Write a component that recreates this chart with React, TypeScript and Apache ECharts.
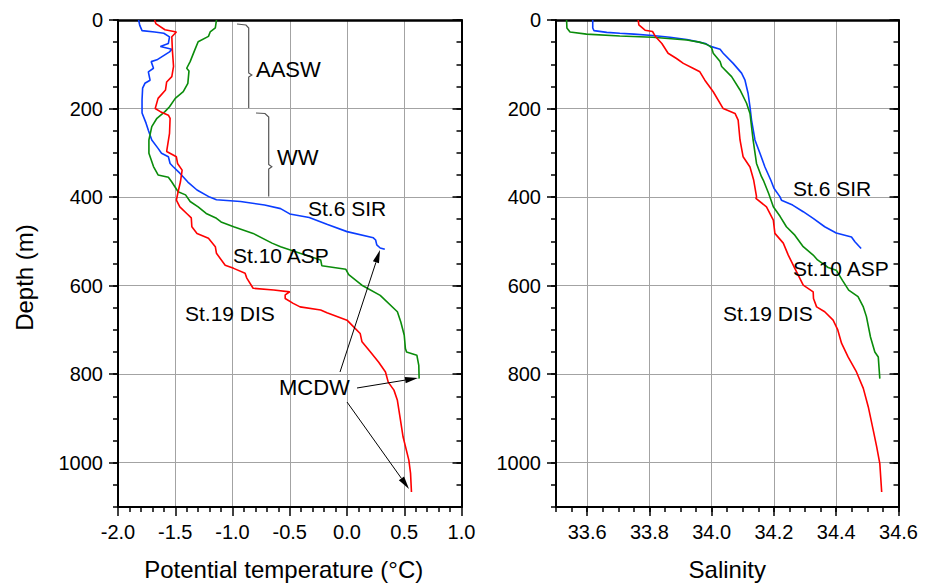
import React, { useEffect, useRef } from 'react';
import * as echarts from 'echarts';

// ---------- data ----------
const depthMax = 1100;
const tempTicks = [-2, -1.5, -1, -0.5, 0, 0.5, 1];
const salTicks = [33.6, 33.8, 34.0, 34.2, 34.4, 34.6];

// St.6 SIR – potential temperature
const sirTDepth = [0, 12, 24, 27, 30, 38, 53, 60, 66, 72, 90, 94, 109, 117, 136, 143, 154, 180, 210, 233, 249, 271, 290, 301, 309, 324, 331, 346, 366, 384, 400, 406, 410, 418, 426, 438, 446, 462, 478, 492, 497, 508, 515, 518];
const sirT = [-1.82, -1.81, -1.79, -1.68, -1.6, -1.55, -1.56, -1.63, -1.53, -1.55, -1.66, -1.71, -1.69, -1.735, -1.72, -1.765, -1.785, -1.79, -1.79, -1.755, -1.735, -1.705, -1.65, -1.62, -1.56, -1.545, -1.52, -1.46, -1.39, -1.31, -1.2, -1.14, -0.93, -0.72, -0.58, -0.5, -0.33, -0.17, 0.0, 0.23, 0.25, 0.26, 0.29, 0.33];

// St.10 ASP – potential temperature
const aspTDepth = [0, 18, 27, 37, 49, 68, 94, 109, 115, 143, 162, 177, 196, 207, 222, 241, 271, 301, 331, 350, 355, 366, 388, 395, 410, 422, 437, 448, 456, 467, 482, 504, 512, 527, 542, 555, 563, 575, 599, 622, 659, 682, 712, 742, 750, 757, 780, 810];
const aspT = [-1.14, -1.15, -1.195, -1.21, -1.3, -1.33, -1.37, -1.4, -1.38, -1.39, -1.43, -1.5, -1.55, -1.59, -1.66, -1.705, -1.73, -1.73, -1.69, -1.65, -1.56, -1.53, -1.475, -1.41, -1.37, -1.3, -1.23, -1.14, -1.1, -0.99, -0.82, -0.655, -0.58, -0.41, -0.23, -0.22, -0.01, 0.015, 0.13, 0.29, 0.44, 0.47, 0.5, 0.51, 0.52, 0.61, 0.627, 0.63];

// St.19 DIS – potential temperature
const disTDepth = [0, 8, 22, 27, 38, 68, 105, 128, 140, 158, 177, 200, 207, 215, 222, 256, 297, 309, 324, 339, 366, 388, 407, 422, 437, 447, 467, 482, 493, 512, 527, 554, 561, 572, 583, 606, 610, 614, 621, 629, 640, 648, 655, 661, 678, 697, 708, 727, 750, 773, 795, 818, 836, 859, 904, 942, 994, 1024, 1066];
const disT = [-1.68, -1.67, -1.59, -1.49, -1.53, -1.525, -1.515, -1.53, -1.575, -1.585, -1.65, -1.675, -1.63, -1.56, -1.545, -1.55, -1.575, -1.49, -1.48, -1.44, -1.455, -1.475, -1.49, -1.46, -1.4, -1.36, -1.355, -1.31, -1.21, -1.15, -1.14, -1.064, -0.99, -0.89, -0.875, -0.82, -0.64, -0.5, -0.54, -0.54, -0.47, -0.41, -0.23, -0.175, 0.0, 0.073, 0.115, 0.131, 0.205, 0.277, 0.336, 0.36, 0.41, 0.44, 0.467, 0.49, 0.54, 0.555, 0.563];

// St.6 SIR – salinity
const sirSDepth = [0, 18, 24, 28, 30, 32, 35, 39, 44, 50, 53, 59, 66, 75, 98, 120, 136, 166, 196, 226, 271, 301, 332, 362, 380, 399, 407, 418, 433, 448, 467, 481, 490, 501, 516];
const sirS = [33.618, 33.618, 33.622, 33.663, 33.705, 33.75, 33.81, 33.866, 33.92, 33.96, 33.98, 33.994, 34.027, 34.037, 34.069, 34.096, 34.107, 34.117, 34.123, 34.128, 34.139, 34.155, 34.171, 34.19, 34.2, 34.219, 34.224, 34.26, 34.294, 34.326, 34.363, 34.4, 34.449, 34.46, 34.48];

// St.10 ASP – salinity
const aspSDepth = [0, 18, 27, 32, 36, 39, 45, 50, 54, 59, 63, 75, 94, 105, 128, 158, 188, 211, 271, 324, 354, 362, 392, 422, 444, 467, 486, 512, 531, 542, 559, 565, 588, 610, 625, 648, 670, 716, 750, 761, 810];
const aspS = [33.534, 33.535, 33.545, 33.598, 33.705, 33.81, 33.92, 33.96, 33.98, 33.994, 34.0, 34.005, 34.027, 34.032, 34.064, 34.091, 34.112, 34.123, 34.133, 34.144, 34.16, 34.166, 34.183, 34.198, 34.22, 34.24, 34.267, 34.294, 34.326, 34.34, 34.374, 34.4, 34.42, 34.44, 34.47, 34.487, 34.497, 34.51, 34.524, 34.535, 34.54];

// St.19 DIS – salinity
const disSDepth = [0, 11, 23, 26, 38, 53, 75, 87, 98, 109, 117, 136, 162, 200, 211, 226, 271, 309, 332, 362, 399, 403, 422, 452, 482, 504, 531, 561, 599, 614, 629, 648, 659, 678, 700, 730, 761, 795, 832, 874, 927, 964, 1002, 1066];
const disS = [33.764, 33.766, 33.786, 33.81, 33.82, 33.84, 33.86, 33.887, 33.909, 33.94, 33.962, 33.978, 34.005, 34.037, 34.075, 34.085, 34.091, 34.101, 34.123, 34.135, 34.144, 34.142, 34.176, 34.198, 34.203, 34.23, 34.246, 34.267, 34.294, 34.326, 34.327, 34.337, 34.363, 34.39, 34.405, 34.417, 34.438, 34.465, 34.487, 34.503, 34.519, 34.53, 34.54, 34.546];

const stationNames = ['St.6 SIR', 'St.10 ASP', 'St.19 DIS'];

// ---------- styling ----------
const FONT = "'Liberation Sans', Arial, Helvetica, sans-serif";
const GRID_COLOR = '#a3a3a3';
const BLUE = '#0a3dff';
const GREEN = '#0a8c0a';
const RED = '#ff0000';

const pairs = (xs: number[], ds: number[]) => xs.map((v, i) => [v, ds[i]]);

function arrow(x1: number, y1: number, x2: number, y2: number) {
  const dx = x2 - x1;
  const dy = y2 - y1;
  const len = Math.hypot(dx, dy);
  const ux = dx / len;
  const uy = dy / len;
  const L = 13;
  const W = 3.2;
  const bx = x2 - ux * L;
  const by = y2 - uy * L;
  return [
    { type: 'line', shape: { x1, y1, x2: bx, y2: by }, style: { stroke: '#000', lineWidth: 1 }, z: 10 },
    {
      type: 'polygon',
      shape: { points: [[x2, y2], [bx - uy * W, by + ux * W], [bx + uy * W, by - ux * W]] },
      style: { fill: '#000' },
      z: 10,
    },
  ];
}

function label(text: string, x: number, y: number, size = 21) {
  return {
    type: 'text',
    x,
    y,
    z: 10,
    style: { text, fill: '#000', fontSize: size, fontFamily: FONT, verticalAlign: 'middle', align: 'left' },
  };
}

function yAxesFor(grid: number, name?: string) {
  const base = { type: 'value', gridIndex: grid, inverse: true, min: 0, max: depthMax };
  const tickStyle = { color: '#000', width: 1.5 };
  return [
    {
      ...base,
      position: 'left',
      interval: 200,
      axisLine: { show: true, onZero: false, lineStyle: { color: '#000', width: 2 } },
      axisTick: { show: true, inside: false, length: 9, lineStyle: tickStyle },
      axisLabel: {
        show: true,
        color: '#000',
        fontSize: 20,
        fontFamily: FONT,
        margin: 15,
        showMaxLabel: false,
        formatter: (v: number) => String(v),
      },
      splitLine: { show: true, lineStyle: { color: GRID_COLOR, width: 1 } },
      name,
      nameLocation: 'middle',
      nameGap: 82,
      nameRotate: 90,
      nameTextStyle: { color: '#000', fontSize: 24, fontFamily: FONT, padding: [0, 28, 0, 0] },
    },
    {
      ...base,
      position: 'left',
      interval: 50,
      axisLine: { show: false, onZero: false },
      axisTick: { show: true, inside: false, length: 5, lineStyle: tickStyle },
      axisLabel: { show: false },
      splitLine: { show: false },
    },
    {
      ...base,
      position: 'right',
      interval: 200,
      axisLine: { show: true, onZero: false, lineStyle: { color: '#000', width: 2 } },
      axisTick: { show: true, inside: true, length: 9, lineStyle: tickStyle },
      axisLabel: { show: false },
      splitLine: { show: false },
    },
    {
      ...base,
      position: 'right',
      interval: 50,
      axisLine: { show: false, onZero: false },
      axisTick: { show: true, inside: true, length: 5, lineStyle: tickStyle },
      axisLabel: { show: false },
      splitLine: { show: false },
    },
  ];
}

export default function App() {
  const ref = useRef<HTMLDivElement>(null);

  useEffect(() => {
    if (!ref.current) return;
    const chart = echarts.init(ref.current, undefined, { renderer: 'svg' });
    const tickStyle = { color: '#000', width: 1.5 };

    const lineSeries = (name: string, data: number[][], color: string, xi: number, yi: number) => ({
      name,
      type: 'line',
      xAxisIndex: xi,
      yAxisIndex: yi,
      data,
      showSymbol: false,
      symbol: 'none',
      smooth: false,
      clip: false,
      lineStyle: { color, width: 1.6 },
      z: 5,
    });

    const option: any = {
      animation: false,
      backgroundColor: '#fff',
      grid: [
        { left: 118, top: 20, width: 343.5, height: 487, outerBoundsMode: 'none', containLabel: false },
        { left: 556, top: 20, width: 342.5, height: 487, outerBoundsMode: 'none', containLabel: false },
      ],
      xAxis: [
        {
          type: 'value',
          gridIndex: 0,
          position: 'bottom',
          min: tempTicks[0],
          max: tempTicks[tempTicks.length - 1],
          interval: 0.5,
          axisLine: { show: true, onZero: false, lineStyle: { color: '#000', width: 2 } },
          axisTick: { show: true, length: 9, lineStyle: tickStyle },
          minorTick: { show: true, splitNumber: 5, length: 5, lineStyle: tickStyle },
          axisLabel: { color: '#000', fontSize: 20, fontFamily: FONT, margin: 15, formatter: (v: number) => v.toFixed(1) },
          splitLine: { show: true, lineStyle: { color: GRID_COLOR, width: 1 } },
          name: 'Potential temperature (°C)',
          nameLocation: 'middle',
          nameGap: 50,
          nameTextStyle: { color: '#000', fontSize: 24, fontFamily: FONT, padding: [0, 12, 0, 0] },
        },
        {
          type: 'value',
          gridIndex: 0,
          position: 'top',
          min: tempTicks[0],
          max: tempTicks[tempTicks.length - 1],
          axisLine: { show: true, onZero: false, lineStyle: { color: '#000', width: 2.5 } },
          axisTick: { show: false },
          axisLabel: { show: false },
          splitLine: { show: false },
        },
        {
          type: 'value',
          gridIndex: 1,
          position: 'bottom',
          min: 33.5,
          max: 34.6,
          axisLine: { show: true, onZero: false, lineStyle: { color: '#000', width: 2 } },
          axisTick: { show: true, length: 9, lineStyle: tickStyle, customValues: salTicks },
          axisLabel: {
            color: '#000',
            fontSize: 20,
            fontFamily: FONT,
            margin: 15,
            customValues: salTicks,
            formatter: (v: number) => v.toFixed(1),
          },
          splitLine: { show: true, lineStyle: { color: GRID_COLOR, width: 1 } },
          name: 'Salinity',
          nameLocation: 'middle',
          nameGap: 50,
          nameTextStyle: { color: '#000', fontSize: 24, fontFamily: FONT },
        },
        {
          type: 'value',
          gridIndex: 1,
          position: 'bottom',
          min: 33.5,
          max: 34.6,
          interval: 0.05,
          axisLine: { show: false, onZero: false },
          axisTick: { show: true, length: 5, lineStyle: tickStyle },
          axisLabel: { show: false },
          splitLine: { show: false },
        },
        {
          type: 'value',
          gridIndex: 1,
          position: 'top',
          min: 33.5,
          max: 34.6,
          axisLine: { show: true, onZero: false, lineStyle: { color: '#000', width: 2.5 } },
          axisTick: { show: false },
          axisLabel: { show: false },
          splitLine: { show: false },
        },
      ],
      yAxis: [...yAxesFor(0, 'Depth (m)'), ...yAxesFor(1)],
      series: [
        lineSeries(stationNames[0] + ' T', pairs(sirT, sirTDepth), BLUE, 0, 0),
        lineSeries(stationNames[1] + ' T', pairs(aspT, aspTDepth), GREEN, 0, 0),
        lineSeries(stationNames[2] + ' T', pairs(disT, disTDepth), RED, 0, 0),
        lineSeries(stationNames[0] + ' S', pairs(sirS, sirSDepth), BLUE, 2, 4),
        lineSeries(stationNames[1] + ' S', pairs(aspS, aspSDepth), GREEN, 2, 4),
        lineSeries(stationNames[2] + ' S', pairs(disS, disSDepth), RED, 2, 4),
      ],
      graphic: [
        // water-mass brackets
        {
          type: 'polyline',
          z: 10,
          shape: { points: [[237, 24], [246, 25], [248.7, 28], [248.7, 73], [251.8, 75], [248.7, 77], [248.7, 108]] },
          style: { stroke: '#555', lineWidth: 1.2, fill: null },
        },
        {
          type: 'polyline',
          z: 10,
          shape: { points: [[256, 113], [265, 113.5], [268.7, 117], [268.7, 164.5], [271.8, 166.7], [268.7, 169], [268.7, 196.5]] },
          style: { stroke: '#555', lineWidth: 1.2, fill: null },
        },
        label('AASW', 256, 69, 22),
        label('WW', 277, 157, 22),
        label(stationNames[0], 308, 208),
        label(stationNames[1], 233, 255),
        label(stationNames[2], 185, 313),
        label('MCDW', 279, 387, 22),
        label(stationNames[0], 793, 188),
        label(stationNames[1], 793, 268),
        label(stationNames[2], 723, 313),
        ...arrow(340, 372, 380, 250),
        ...arrow(357, 388, 418, 378),
        ...arrow(347, 402, 409, 489),
      ],
    };

    chart.setOption(option);
    return () => chart.dispose();
  }, []);

  return (
    <div
      ref={ref}
      style={{ position: 'fixed', left: 0, top: 0, width: 932, height: 585, background: '#fff' }}
    />
  );
}
